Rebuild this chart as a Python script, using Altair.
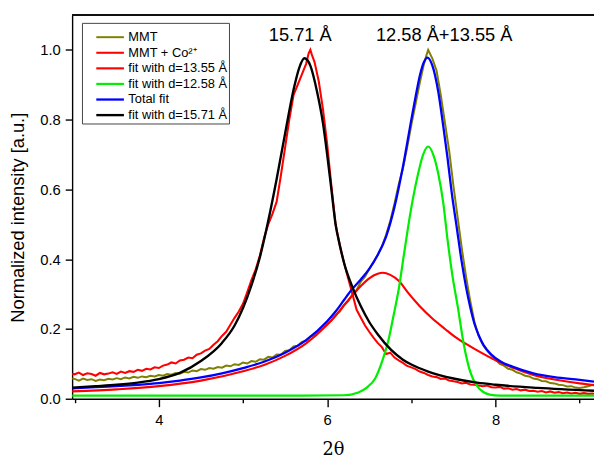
import altair as alt
import pandas as pd

# ---------------- data ----------------
series_names = ["MMT", "MMT + Co²⁺", "fit with d=13.55 Å", "fit with d=12.58 Å",
                "Total fit", "fit with d=15.71 Å"]

mmt_x = [2.97, 3.00, 3.05, 3.10, 3.15, 3.20, 3.25, 3.30, 3.35, 3.40, 3.45, 3.50, 3.55, 3.60, 3.65,
         3.70, 3.75, 3.80, 3.85, 3.90, 3.95, 4.00, 4.05, 4.10, 4.15, 4.20, 4.25, 4.30, 4.35, 4.40,
         4.45, 4.50, 4.55, 4.60, 4.65, 4.70, 4.75, 4.80, 4.85, 4.90, 4.95, 5.00, 5.05, 5.10, 5.15,
         5.20, 5.25, 5.30, 5.35, 5.40, 5.45, 5.50, 5.55, 5.60, 5.65, 5.70, 5.75, 5.80, 5.85, 5.90,
         5.95, 6.00, 6.05, 6.10, 6.15, 6.20, 6.25, 6.30, 6.35, 6.40, 6.45, 6.50, 6.55, 6.60, 6.65,
         6.70, 6.75, 6.80, 6.85, 6.90, 6.95, 7.00, 7.05, 7.10, 7.15, 7.18, 7.20, 7.22, 7.25, 7.30,
         7.35, 7.40, 7.45, 7.50, 7.55, 7.60, 7.65, 7.70, 7.75, 7.80, 7.85, 7.90, 7.95, 8.00, 8.05,
         8.10, 8.15, 8.20, 8.25, 8.30, 8.35, 8.40, 8.45, 8.50, 8.55, 8.60, 8.65, 8.70, 8.75, 8.80,
         8.85, 8.90, 8.95, 9.00, 9.05, 9.10, 9.15, 9.17]
mmt_y = [0.058, 0.057, 0.052, 0.058, 0.054, 0.056, 0.051, 0.055, 0.053, 0.057, 0.055, 0.059, 0.056, 0.061, 0.058,
         0.063, 0.060, 0.064, 0.062, 0.066, 0.064, 0.068, 0.066, 0.071, 0.069, 0.074, 0.072, 0.077, 0.075, 0.081,
         0.079, 0.085, 0.083, 0.088, 0.086, 0.091, 0.089, 0.095, 0.093, 0.099, 0.097, 0.104, 0.101, 0.108, 0.106,
         0.113, 0.112, 0.120, 0.118, 0.127, 0.126, 0.137, 0.139, 0.150, 0.152, 0.163, 0.166, 0.178, 0.183, 0.196,
         0.202, 0.215, 0.224, 0.240, 0.250, 0.268, 0.280, 0.300, 0.312, 0.336, 0.350, 0.372, 0.392, 0.412, 0.436,
         0.470, 0.510, 0.560, 0.615, 0.660, 0.720, 0.785, 0.845, 0.905, 0.960, 0.985, 1.000, 0.990, 0.975, 0.940,
         0.870, 0.790, 0.710, 0.610, 0.520, 0.430, 0.350, 0.280, 0.220, 0.180, 0.155, 0.138, 0.124, 0.112, 0.100,
         0.095, 0.086, 0.083, 0.076, 0.072, 0.066, 0.064, 0.058, 0.056, 0.051, 0.050, 0.045, 0.044, 0.040, 0.039,
         0.035, 0.036, 0.032, 0.031, 0.033, 0.036, 0.039, 0.040]

co_x = [2.97, 3.00, 3.05, 3.10, 3.15, 3.20, 3.25, 3.30, 3.35, 3.40, 3.45, 3.50, 3.55, 3.60, 3.65,
        3.70, 3.75, 3.80, 3.85, 3.90, 3.95, 4.00, 4.05, 4.10, 4.15, 4.20, 4.25, 4.30, 4.35, 4.40,
        4.45, 4.50, 4.55, 4.60, 4.65, 4.70, 4.75, 4.80, 4.85, 4.90, 4.95, 5.00, 5.05, 5.10, 5.15,
        5.20, 5.25, 5.30, 5.35, 5.40, 5.45, 5.50, 5.55, 5.60, 5.65, 5.70, 5.75, 5.78, 5.80, 5.82,
        5.85, 5.90, 5.95, 6.00, 6.05, 6.10, 6.15, 6.20, 6.25, 6.30, 6.35, 6.40, 6.45, 6.50, 6.55,
        6.60, 6.65, 6.70, 6.75, 6.80, 6.85, 6.90, 6.95, 7.00, 7.05, 7.10, 7.15, 7.20, 7.25, 7.30,
        7.35, 7.40, 7.45, 7.50, 7.55, 7.60, 7.65, 7.70, 7.75, 7.80, 7.85, 7.90, 7.95, 8.00, 8.05,
        8.10, 8.15, 8.20, 8.25, 8.30, 8.35, 8.40, 8.45, 8.50, 8.55, 8.60, 8.65, 8.70, 8.75, 8.80,
        8.85, 8.90, 8.95, 9.00, 9.05, 9.10, 9.15, 9.17]
co_y = [0.072, 0.070, 0.075, 0.068, 0.073, 0.071, 0.066, 0.074, 0.070, 0.072, 0.076, 0.071, 0.078, 0.074, 0.079,
        0.077, 0.083, 0.080, 0.086, 0.084, 0.090, 0.088, 0.095, 0.098, 0.104, 0.101, 0.110, 0.112, 0.118, 0.116,
        0.126, 0.130, 0.138, 0.143, 0.155, 0.165, 0.180, 0.192, 0.212, 0.232, 0.250, 0.272, 0.305, 0.340, 0.370,
        0.410, 0.460, 0.500, 0.530, 0.565, 0.640, 0.720, 0.800, 0.870, 0.900, 0.930, 0.960, 0.990, 1.000, 0.985,
        0.965, 0.910, 0.830, 0.730, 0.610, 0.500, 0.440, 0.390, 0.345, 0.300, 0.255, 0.232, 0.210, 0.192, 0.175,
        0.160, 0.148, 0.128, 0.132, 0.118, 0.110, 0.103, 0.094, 0.090, 0.085, 0.078, 0.074, 0.068, 0.064, 0.062,
        0.057, 0.058, 0.052, 0.050, 0.048, 0.044, 0.046, 0.041, 0.040, 0.038, 0.036, 0.038, 0.033, 0.032, 0.034,
        0.029, 0.030, 0.026, 0.028, 0.024, 0.026, 0.022, 0.023, 0.020, 0.022, 0.018, 0.021, 0.017, 0.019, 0.016,
        0.018, 0.015, 0.017, 0.014, 0.016, 0.014, 0.015, 0.014]

f1355_x = [2.97, 3.5, 4.0, 4.5, 5.0, 5.25, 5.5, 5.75, 6.0, 6.1, 6.2, 6.3, 6.4, 6.5, 6.6, 6.66,
           6.75, 6.85, 6.96, 7.1, 7.24, 7.4, 7.55, 7.63, 7.75, 8.02, 8.25, 8.45, 8.7, 9.0, 9.17]
f1355_y = [0.021, 0.027, 0.036, 0.052, 0.079, 0.097, 0.123, 0.159, 0.212, 0.238, 0.268, 0.296, 0.323, 0.345,
           0.358, 0.361, 0.355, 0.338, 0.304, 0.265, 0.232, 0.200, 0.172, 0.160, 0.143, 0.108, 0.085, 0.068,
           0.055, 0.044, 0.039]

f1258_x = [2.97, 5.5, 6.2, 6.37, 6.47, 6.57, 6.65, 6.73, 6.79, 6.85, 6.91, 6.96, 7.02, 7.08, 7.14, 7.2,
           7.26, 7.32, 7.38, 7.43, 7.49, 7.55, 7.62, 7.70, 7.77, 7.85, 7.93, 8.05, 9.17]
f1258_y = [0.009, 0.009, 0.010, 0.018, 0.032, 0.058, 0.105, 0.170, 0.240, 0.314, 0.410, 0.490, 0.575, 0.645,
           0.700, 0.723, 0.700, 0.645, 0.560, 0.456, 0.350, 0.266, 0.160, 0.077, 0.040, 0.020, 0.012, 0.009,
           0.009]

total_x = [2.97, 3.25, 3.5, 3.75, 4.0, 4.25, 4.5, 4.75, 5.0, 5.25, 5.5, 5.75, 6.0, 6.1, 6.2, 6.3, 6.4,
           6.5, 6.6, 6.7, 6.8, 6.9, 7.0, 7.05, 7.1, 7.15, 7.19, 7.25, 7.32, 7.38, 7.43, 7.48, 7.54, 7.6,
           7.65, 7.7, 7.75, 7.8, 7.86, 7.95, 8.06, 8.2, 8.45, 8.7, 9.0, 9.17]
total_y = [0.030, 0.033, 0.036, 0.040, 0.045, 0.052, 0.061, 0.073, 0.088, 0.106, 0.132, 0.168, 0.222, 0.250,
           0.283, 0.315, 0.342, 0.372, 0.412, 0.465, 0.550, 0.665, 0.800, 0.865, 0.925, 0.965, 0.978, 0.955,
           0.880, 0.780, 0.690, 0.590, 0.490, 0.390, 0.320, 0.262, 0.215, 0.182, 0.153, 0.127, 0.107, 0.092,
           0.073, 0.062, 0.054, 0.049]

f1571_x = [2.97, 3.25, 3.5, 3.75, 4.0, 4.25, 4.5, 4.75, 4.9, 5.0, 5.1, 5.2, 5.3, 5.4, 5.5, 5.6, 5.67,
           5.73, 5.8, 5.88, 5.95, 6.0, 6.05, 6.1, 6.15, 6.2, 6.3, 6.4, 6.5, 6.6, 6.76, 6.9, 7.0, 7.2, 7.5,
           7.78, 8.0, 8.5, 9.17]
f1571_y = [0.032, 0.036, 0.040, 0.046, 0.056, 0.074, 0.108, 0.160, 0.210, 0.260, 0.325, 0.405, 0.510, 0.630,
           0.760, 0.885, 0.950, 0.976, 0.955, 0.880, 0.790, 0.700, 0.600, 0.500, 0.440, 0.390, 0.320, 0.265,
           0.220, 0.185, 0.140, 0.112, 0.098, 0.078, 0.058, 0.046, 0.040, 0.031, 0.023]

series_x = [mmt_x, co_x, f1355_x, f1258_x, total_x, f1571_x]
series_y = [mmt_y, co_y, f1355_y, f1258_y, total_y, f1571_y]
colors = ["#808000", "#ff0000", "#ff0000", "#00ee00", "#0000ff", "#000000"]
widths = [2.0, 2.4, 1.4, 1.4, 1.5, 1.6]
smooth = [False, False, True, True, True, True]

ann_x = [5.68, 7.39]
ann_y = [1.025, 1.025]
ann_text = ["15.71 Å", "12.58 Å+13.55 Å"]

# ---------------- chart ----------------
frames = []
for name, xs, ys in zip(series_names, series_x, series_y):
    frames.append(pd.DataFrame({"two_theta": xs, "intensity": ys, "series": name}))
df = pd.concat(frames, ignore_index=True)

W, H = 529, 389
xscale = alt.Scale(domain=[2.97, 9.17], nice=False, zero=False)
yscale = alt.Scale(domain=[0, 1.1], nice=False, zero=False)

x_axis = alt.Axis(
    title="2θ", values=[3, 4, 5, 6, 7, 8, 9],
    labelExpr="datum.value % 2 == 0 ? format(datum.value, 'd') : ''",
    tickSize={"condition": {"test": "datum.value % 2 == 0", "value": 8}, "value": 4},
    grid=False, labelPadding=6, titlePadding=14, labelFontSize=15, titleFontSize=18,
    titleFont="DejaVu Serif", titleFontWeight="normal")
y_axis = alt.Axis(
    title="Normalized intensity [a.u.]",
    values=[0, 0.1, 0.2, 0.3, 0.4, 0.5, 0.6, 0.7, 0.8, 0.9, 1.0],
    labelExpr="round(datum.value*10) % 2 == 0 ? format(datum.value, '.1f') : ''",
    tickSize={"condition": {"test": "round(datum.value*10) % 2 == 0", "value": 7}, "value": 4},
    grid=False, labelPadding=5, titlePadding=12, labelFontSize=15, titleFontSize=18.5,
    titleFontWeight="normal", titleY=205)

leg = dict(title=" ", titleFontSize=5, titlePadding=2, orient="none", legendX=10, legendY=8,
           symbolType="M-4,0L4,0", symbolSize=49, rowPadding=1.8,
           padding=1, symbolOffset=21, labelFont="Liberation Sans",
           labelFontSize=13, strokeColor="#444", fillColor="white",
           labelOffset=12, labelLimit=300)
color = alt.Color("series:N", scale=alt.Scale(domain=series_names, range=colors),
                  legend=alt.Legend(**leg))
swidth = alt.StrokeWidth("series:N", scale=alt.Scale(domain=series_names, range=widths),
                         legend=alt.Legend(**leg))

layers = []
for name, sm in zip(series_names, smooth):
    layers.append(
        alt.Chart(df).transform_filter(alt.datum.series == name)
        .mark_line(interpolate="monotone" if sm else "linear", clip=True)
        .encode(x=alt.X("two_theta:Q", scale=xscale, axis=x_axis),
                y=alt.Y("intensity:Q", scale=yscale, axis=y_axis),
                color=color, strokeWidth=swidth)
    )

ann_df = pd.DataFrame({"x": ann_x, "y": ann_y, "t": ann_text})
ann = alt.Chart(ann_df).mark_text(font="Liberation Sans", fontSize=18.5, color="black",
                                  baseline="alphabetic", align="center").encode(
    x=alt.X("x:Q", scale=xscale), y=alt.Y("y:Q", scale=yscale), text="t:N")

frame_top = alt.Chart(ann_df).mark_rule(color="black", strokeWidth=1.4).encode(
    x=alt.value(0), x2=alt.value(W), y=alt.value(0))

chart = alt.layer(*layers, ann, frame_top).properties(
    width=W, height=H,
    autosize=alt.AutoSizeParams(type="none"),
    padding={"left": 65, "top": 4, "right": 0, "bottom": 58},
).configure_view(stroke=None).configure_axis(
    labelFont="Liberation Sans", titleFont="Liberation Sans", labelColor="black",
    titleColor="black", domainColor="black", tickColor="black", domainWidth=1.4,
    tickWidth=1.4, labelFlush=False, labelOverlap=False
)

chart.save("out.html", embed_options={"renderer": "svg", "actions": False})
